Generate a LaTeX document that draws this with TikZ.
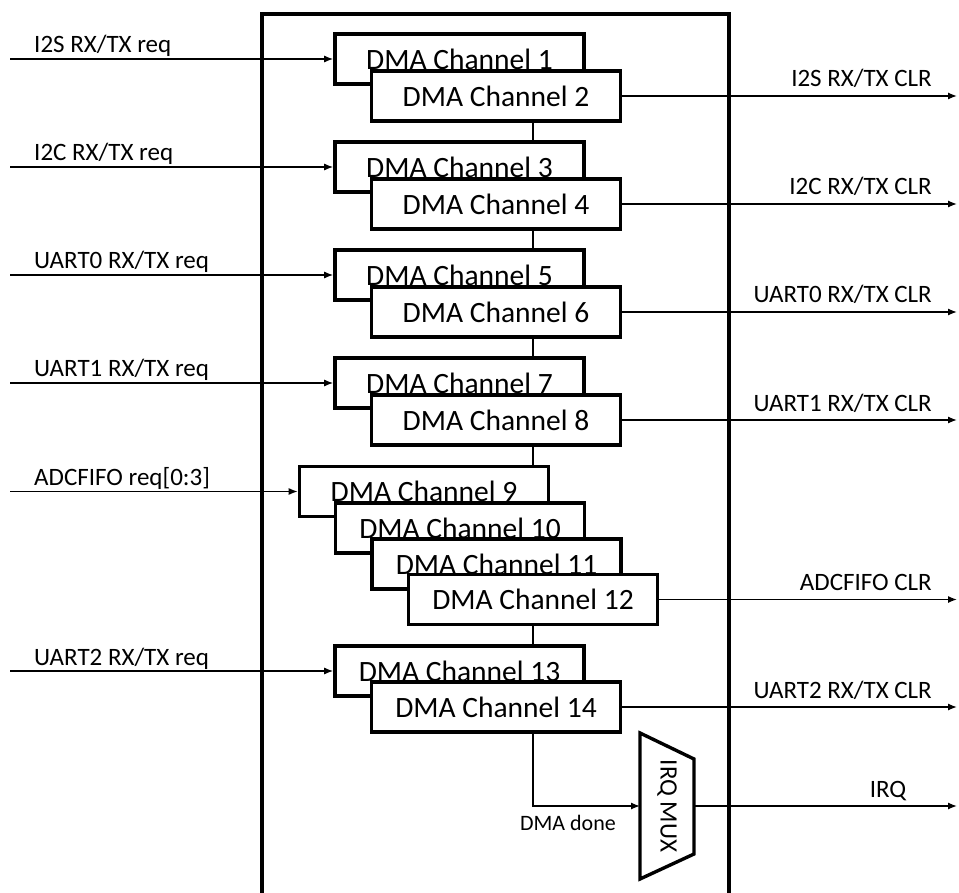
\documentclass[tikz,border=0pt]{standalone}
\usepackage{fontspec}
\setmainfont{Carlito}
\usetikzlibrary{arrows.meta}
\tikzset{
  chan/.style={draw, fill=white, line width=3.6pt, minimum width=249pt, minimum height=50pt,
    inner sep=0pt, font=\fontsize{29.5}{34}\selectfont},
  sig/.style={line width=1.3pt},
  lbl/.style={font=\fontsize{25}{30}\selectfont, inner sep=0pt},
  small lbl/.style={font=\fontsize{22}{26}\selectfont, inner sep=0pt},
  >={Latex[length=9pt,width=7pt]}
}
\begin{document}
\begin{tikzpicture}[x=1pt,y=-1pt]
  \useasboundingbox (0,0) rectangle (959,893);

  % Marco del bloque DMA
  \draw[line width=3.4pt] (262,893) -- (262,14) -- (729,14) -- (729,893);

  % Extremos libres
  \coordinate (xl) at (10,0);
  \coordinate (xr) at (957,0);

  % Canales
  \node[chan] (ch1) at (459.5,59) {DMA Channel 1};
  \node[chan] (ch2) at (496,96) {DMA Channel 2};
  \node[chan] (ch3) at (459.5,167) {DMA Channel 3};
  \node[chan] (ch4) at (496,204) {DMA Channel 4};
  \node[chan] (ch5) at (459.5,275) {DMA Channel 5};
  \node[chan] (ch6) at (496,312) {DMA Channel 6};
  \node[chan] (ch7) at (459.5,383) {DMA Channel 7};
  \node[chan] (ch8) at (496,420) {DMA Channel 8};
  \node[chan] (ch9) at (424,491.5) {DMA Channel 9};
  \node[chan] (ch10) at (460,528) {DMA Channel 10};
  \node[chan] (ch11) at (496.5,564) {DMA Channel 11};
  \node[chan] (ch12) at (533,599.5) {DMA Channel 12};
  \node[chan] (ch13) at (459.5,671) {DMA Channel 13};
  \node[chan] (ch14) at (496,707) {DMA Channel 14};

  % Bus entre canales
  \draw[sig] (ch2.south -| ch12) -- (ch3.north -| ch12);
  \draw[sig] (ch4.south -| ch12) -- (ch5.north -| ch12);
  \draw[sig] (ch6.south -| ch12) -- (ch7.north -| ch12);
  \draw[sig] (ch8.south -| ch12) -- (ch9.north -| ch12);
  \draw[sig] (ch12.south) -- (ch13.north -| ch12);

  % Peticiones de entrada
  \draw[sig,->] (xl |- ch1) -- (ch1.west);
  \draw[sig,->] (xl |- ch3) -- (ch3.west);
  \draw[sig,->] (xl |- ch5) -- (ch5.west);
  \draw[sig,->] (xl |- ch7) -- (ch7.west);
  \draw[sig,->] (xl |- ch9) -- (ch9.west);
  \draw[sig,->] (xl |- ch13) -- (ch13.west);
  \node[lbl, anchor=base west] (inI2S) at ([xshift=24pt,yshift=6pt]xl |- ch1) {I2S RX/TX req};
  \node[lbl, anchor=base west] (inI2C) at ([xshift=24pt,yshift=6pt]xl |- ch3) {I2C RX/TX req};
  \node[lbl, anchor=base west] (inUART0) at ([xshift=24pt,yshift=6pt]xl |- ch5) {UART0 RX/TX req};
  \node[lbl, anchor=base west] (inUART1) at ([xshift=24pt,yshift=6pt]xl |- ch7) {UART1 RX/TX req};
  \node[lbl, anchor=base west] (inADC) at ([xshift=24pt,yshift=6pt]xl |- ch9) {ADCFIFO req[0:3]};
  \node[lbl, anchor=base west] (inUART2) at ([xshift=24pt,yshift=6pt]xl |- ch13) {UART2 RX/TX req};

  % Salidas CLR
  \draw[sig,->] (ch2.east) -- (xr |- ch2);
  \draw[sig,->] (ch4.east) -- (xr |- ch4);
  \draw[sig,->] (ch6.east) -- (xr |- ch6);
  \draw[sig,->] (ch8.east) -- (xr |- ch8);
  \draw[sig,->] (ch12.east) -- (xr |- ch12);
  \draw[sig,->] (ch14.east) -- (xr |- ch14);
  \node[lbl, anchor=base east] (outI2S) at ([xshift=-25pt,yshift=9pt]xr |- ch2) {I2S RX/TX CLR};
  \node[lbl, anchor=base east] (outI2C) at ([xshift=-25pt,yshift=9pt]xr |- ch4) {I2C RX/TX CLR};
  \node[lbl, anchor=base east] (outUART0) at ([xshift=-25pt,yshift=9pt]xr |- ch6) {UART0 RX/TX CLR};
  \node[lbl, anchor=base east] (outUART1) at ([xshift=-25pt,yshift=9pt]xr |- ch8) {UART1 RX/TX CLR};
  \node[lbl, anchor=base east] (outADC) at ([xshift=-25pt,yshift=9pt]xr |- ch12) {ADCFIFO CLR};
  \node[lbl, anchor=base east] (outUART2) at ([xshift=-25pt,yshift=9pt]xr |- ch14) {UART2 RX/TX CLR};

  % Multiplexor de IRQ
  \draw[line width=3.4pt] (640,733) -- (694,759) -- (694,854) -- (640,879) -- cycle;
  \node[lbl, rotate=-90] (mux) at (667,806) {IRQ MUX};
  \coordinate (muxin) at (640,806);
  \coordinate (muxout) at (694,806);
  \draw[sig,->] (ch14.south -| ch12) -- (ch12 |- muxin) -- (muxin);
  \node[small lbl, anchor=base] (done) at (568,830) {DMA done};
  \draw[sig,->] (muxout) -- (xr |- muxout);
  \node[lbl, anchor=base] (irq) at (888,797) {IRQ};
\end{tikzpicture}
\end{document}
